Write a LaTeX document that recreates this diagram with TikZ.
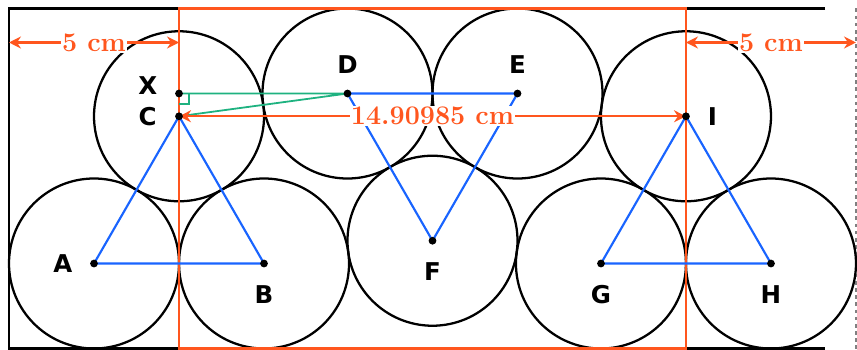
\documentclass[tikz,border=0pt]{standalone}
\usepackage{fontspec}
\newfontfamily\labfont{DejaVu Sans}
\usetikzlibrary{arrows.meta}
\definecolor{myorange}{RGB}{255,86,30}
\definecolor{myblue}{RGB}{25,100,255}
\definecolor{mygreen}{RGB}{30,178,128}
\tikzset{
  circ/.style={draw=black, line width=1.9pt},
  tri/.style={draw=myblue, line width=1.8pt},
  grn/.style={draw=mygreen, line width=1.5pt},
  orng/.style={draw=myorange, line width=1.9pt},
  dimarrow/.style={draw=myorange, line width=2pt, {Stealth[length=10pt,width=10pt]}-{Stealth[length=10pt,width=10pt]}},
  dimlab/.style={fill=white, text=myorange, inner sep=1pt, font=\fontsize{22.5}{26}\selectfont\bfseries},
  lab/.style={font=\labfont\fontsize{20.5}{24}\selectfont\bfseries, inner sep=0pt},
  dot/.style={circle, fill=black, inner sep=0pt, minimum size=6.5pt},
}
\begin{document}
\begin{tikzpicture}
\useasboundingbox (-0.265,-0.03) rectangle (24.94,10.25);
% coordinates
\coordinate (A) at (2.5,2.5);
\coordinate (B) at (7.5,2.5);
\coordinate (C) at (5,6.83013);
\coordinate (X) at (5,7.5);
\coordinate (D) at (9.95492,7.5);
\coordinate (E) at (14.95492,7.5);
\coordinate (F) at (12.45492,3.16987);
\coordinate (G) at (17.40985,2.5);
\coordinate (H) at (22.40985,2.5);
\coordinate (I) at (19.90985,6.83013);
\coordinate (BL) at (0,0);
\coordinate (TL) at (0,10);
\coordinate (TR) at (24,10);
\coordinate (BR) at (24,0);
\coordinate (DT) at (24.90985,10);
\coordinate (DB) at (24.90985,0);
\coordinate (OL) at (5,0);
\coordinate (OR) at (19.90985,10);
\coordinate (L1) at (0,9);
\coordinate (L2) at (5,9);
\coordinate (R1) at (19.90985,9);
\coordinate (R2) at (24.90985,9);
% container
\draw[line width=1.9pt] (TR) -- (TL) -- (BL) -- (BR);
\draw[gray, dashed, line width=1.3pt] (DT) -- (DB);
% circles
\foreach \p in {A,B,C,D,E,F,G,H,I} \draw[circ] (\p) circle (2.5);
% orange box
\draw[orng] (OL) rectangle (OR);
% triangles
\draw[tri] (A) -- (B) -- (C) -- cycle;
\draw[tri] (D) -- (E) -- (F) -- cycle;
\draw[tri] (G) -- (H) -- (I) -- cycle;
% green
\draw[grn] (X) -- (D) -- (C);
\draw[grn] ([xshift=0.3cm]X) -- ++(0,-0.3) -- ++(-0.3,0);
% dimension arrows
\draw[dimarrow] (C) -- (I) node[midway, dimlab] (dCI) {14.90985 cm};
\draw[dimarrow] (L1) -- (L2) node[midway, dimlab] (dL) {5 cm};
\draw[dimarrow] (R1) -- (R2) node[midway, dimlab] (dR) {5 cm};
% dots
\foreach \p in {A,B,C,X,D,E,F,G,H,I} \node[dot] (dot\p) at (\p) {};
% labels
\node[lab] (lA) at ([xshift=-0.92cm]A) {A};
\node[lab] (lB) at ([yshift=-0.92cm]B) {B};
\node[lab] (lC) at ([xshift=-0.92cm]C) {C};
\node[lab] (lX) at ([xshift=-0.92cm,yshift=0.22cm]X) {X};
\node[lab] (lD) at ([yshift=0.86cm]D) {D};
\node[lab] (lE) at ([yshift=0.86cm]E) {E};
\node[lab] (lF) at ([yshift=-0.92cm]F) {F};
\node[lab] (lG) at ([yshift=-0.92cm]G) {G};
\node[lab] (lH) at ([yshift=-0.92cm]H) {H};
\node[lab] (lI) at ([xshift=0.78cm]I) {I};
\end{tikzpicture}
\end{document}
